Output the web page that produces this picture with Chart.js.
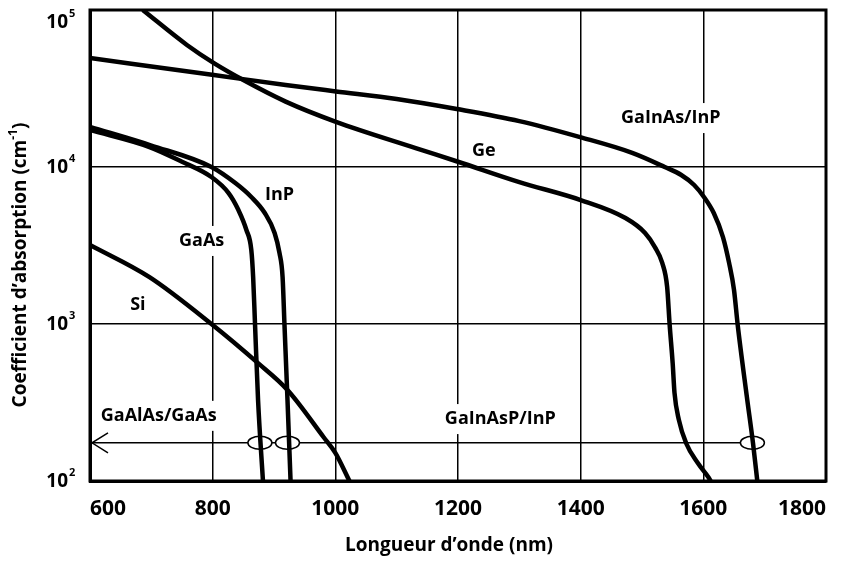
<!DOCTYPE html>
<html>
<head>
<meta charset="utf-8">
<script src="https://cdn.jsdelivr.net/npm/chart.js@4.4.1/dist/chart.umd.min.js"></script>
<style>
  html, body { margin: 0; padding: 0; background: #fff; }
  #wrap { width: 841px; height: 563px; }
</style>
</head>
<body>
<div id="wrap"><canvas id="chart" width="841" height="563"></canvas></div>
<script>
const FONT = "'Open Sans', 'Noto Sans', sans-serif";

// absorption curves: wavelength (nm) / absorption coefficient (cm-1)
const gainasWave = [600, 802, 919, 1001, 1100, 1198, 1300, 1399, 1484, 1537, 1564, 1585, 1601, 1617, 1632, 1642, 1650, 1656, 1671, 1681, 1688];
const gainasAlpha = [49400, 38500, 33300, 30300, 27100, 23400, 19600, 15500, 12300, 10000, 8890, 7680, 6440, 5090, 3580, 2450, 1650, 990, 343, 174, 100];

const geWave = [686, 758, 802, 850, 919, 1001, 1131, 1200, 1300, 1400, 1473, 1505, 1521, 1533, 1541, 1545, 1550, 1553, 1560, 1572, 1591, 1608, 1612];
const geAlpha = [100000, 59900, 45900, 35800, 26100, 19400, 13200, 10800, 8010, 6160, 4730, 3800, 3090, 2450, 1720, 1000, 563, 364, 246, 174, 130, 106, 100];

const inpWave = [600, 700, 798, 837, 863, 885, 901, 909, 914, 917, 922, 927];
const inpAlpha = [18000, 13700, 10000, 7900, 6440, 5090, 3800, 2830, 1990, 1010, 328, 100];

const gaasWave = [600, 697, 750, 798, 826, 842, 855, 863, 866, 869, 874, 882];
const gaasAlpha = [17200, 13400, 10800, 8630, 6820, 5320, 3970, 2960, 1990, 1010, 328, 100];

const siWave = [600, 697, 798, 874, 922, 981, 1000, 1023];
const siAlpha = [3190, 1990, 1000, 563, 380, 190, 151, 100];

// window markers
const guideAlpha = 175;
const guideWave = [600, 1680];
const ringWave = [877, 922, 1680];

// curve labels
const labelText = ["GaInAs/InP", "Ge", "InP", "GaAs", "Si", "GaAlAs/GaAs", "GaInAsP/InP"];
const labelWave = [1547, 1242, 909, 782, 678, 712, 1269];
const labelAlpha = [20500, 12600, 6640, 3380, 1320, 260, 248];
const labelBoxed = [true, false, false, true, false, true, true];

const xTicks = [600, 800, 1000, 1200, 1400, 1600, 1800];
const yDecades = [100, 1000, 10000, 100000];
const yExponents = ["2", "3", "4", "5"];

const curves = [
  [gainasWave, gainasAlpha],
  [geWave, geAlpha],
  [inpWave, inpAlpha],
  [gaasWave, gaasAlpha],
  [siWave, siAlpha]
];

const toPoints = (xs, ys) => xs.map((x, i) => ({ x, y: ys[i] }));

const datasets = curves.map(([w, a]) => ({
  data: toPoints(w, a),
  borderColor: "#000",
  borderWidth: 4.5,
  pointRadius: 0,
  cubicInterpolationMode: "monotone",
  fill: false
}));

datasets.push({
  data: guideWave.map(x => ({ x, y: guideAlpha })),
  borderColor: "#000",
  borderWidth: 1.5,
  pointRadius: 0,
  order: 1
});
const guideIndex = datasets.length - 1;

const decorations = {
  id: "decorations",
  beforeDatasetsDraw(chart) {
    const { ctx, scales: { x, y } } = chart;
    ctx.save();
    ctx.font = `bold 18px ${FONT}`;
    ctx.textAlign = "center";
    ctx.textBaseline = "middle";
    labelText.forEach((t, i) => {
      const px = x.getPixelForValue(labelWave[i]);
      const py = y.getPixelForValue(labelAlpha[i]);
      if (labelBoxed[i]) {
        const w = ctx.measureText(t).width + 8;
        ctx.fillStyle = "#fff";
        ctx.fillRect(px - w / 2, py - 15, w, 30);
      }
      ctx.fillStyle = "#000";
      ctx.fillText(t, px, py);
    });
    ctx.restore();
  },
  afterDatasetDraw(chart, args) {
    if (args.index !== guideIndex) return;
    const { ctx, scales: { x, y } } = chart;
    const py = y.getPixelForValue(guideAlpha);
    const x0 = x.getPixelForValue(guideWave[0]);
    ctx.save();
    ctx.strokeStyle = "#000";
    ctx.lineWidth = 1.5;
    ctx.beginPath();
    ctx.moveTo(x0 + 18, py - 10);
    ctx.lineTo(x0 + 2, py);
    ctx.lineTo(x0 + 18, py + 10);
    ctx.stroke();
    ringWave.forEach(w => {
      const px = x.getPixelForValue(w);
      ctx.beginPath();
      ctx.ellipse(px, py, 12, 6.5, 0, 0, Math.PI * 2);
      ctx.fillStyle = "#fff";
      ctx.fill();
      ctx.stroke();
    });
    ctx.restore();
  },
  afterDraw(chart) {
    const { ctx, chartArea: a, scales: { y } } = chart;
    ctx.save();
    ctx.strokeStyle = "#000";
    ctx.lineWidth = 3;
    ctx.strokeRect(a.left, a.top, a.right - a.left, a.bottom - a.top);

    ctx.fillStyle = "#000";
    ctx.textBaseline = "middle";
    yDecades.forEach((v, i) => {
      const cy = Math.max(y.getPixelForValue(v), a.top + 12);
      ctx.font = `bold 19px ${FONT}`;
      ctx.textAlign = "right";
      ctx.fillText("10", a.left - 22, cy + 1);
      ctx.font = `bold 11px ${FONT}`;
      ctx.textAlign = "left";
      ctx.fillText(yExponents[i], a.left - 21, cy - 8);
    });

    ctx.font = `bold 19px ${FONT}`;
    ctx.textAlign = "center";
    ctx.fillText("Longueur d\u2019onde (nm)", 449, 546);

    // rotated y title with superscript
    const main = "Coefficient d\u2019absorption (cm";
    const sup = "-1";
    const tail = ")";
    ctx.font = `bold 19px ${FONT}`;
    const wMain = ctx.measureText(main).width;
    const wTail = ctx.measureText(tail).width;
    ctx.font = `bold 12px ${FONT}`;
    const wSup = ctx.measureText(sup).width;
    const total = wMain + wSup + wTail;
    ctx.translate(21, 265);
    ctx.rotate(-Math.PI / 2);
    ctx.textAlign = "left";
    let cx = -total / 2;
    ctx.font = `bold 19px ${FONT}`;
    ctx.fillText(main, cx, 0);
    cx += wMain;
    ctx.font = `bold 12px ${FONT}`;
    ctx.fillText(sup, cx, -7);
    cx += wSup;
    ctx.font = `bold 19px ${FONT}`;
    ctx.fillText(tail, cx, 0);
    ctx.restore();
  }
};

new Chart(document.getElementById("chart"), {
  type: "line",
  data: { datasets },
  options: {
    responsive: false,
    animation: false,
    layout: { padding: { left: 0, right: 6, top: 10, bottom: 0 } },
    plugins: { legend: { display: false }, tooltip: { enabled: false } },
    scales: {
      x: {
        type: "linear",
        min: 600,
        max: 1800,
        afterBuildTicks: s => { s.ticks = xTicks.map(value => ({ value })); },
        afterFit: s => { s.height = 82; },
        border: { color: "#000", width: 3 },
        grid: { color: "#000", lineWidth: 1.5, drawTicks: false },
        ticks: {
          align: "inner",
          padding: 15,
          color: "#000",
          callback: v => String(v),
          font: { family: FONT, size: 21, weight: "bold" }
        }
      },
      y: {
        type: "logarithmic",
        min: 100,
        max: 100000,
        afterBuildTicks: s => { s.ticks = yDecades.map(value => ({ value })); },
        afterFit: s => { s.width = 90; },
        border: { color: "#000", width: 3 },
        grid: { color: "#000", lineWidth: 1.5, drawTicks: false },
        ticks: { display: false }
      }
    }
  },
  plugins: [decorations]
});
</script>
</body>
</html>
